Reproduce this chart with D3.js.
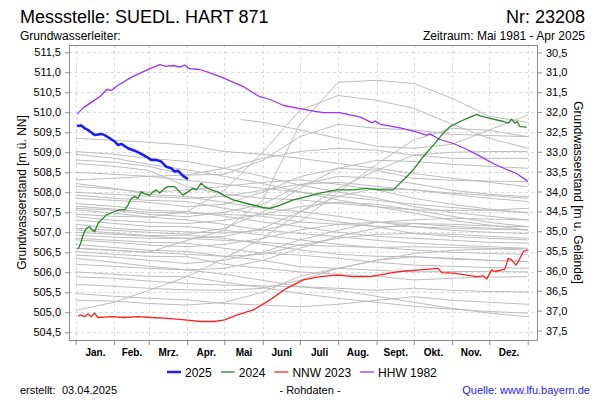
<!DOCTYPE html>
<html><head><meta charset="utf-8">
<script src="https://cdn.jsdelivr.net/npm/d3@7"></script>
<style>body{margin:0;background:#fff}svg{display:block;font-family:"Liberation Sans",Arial,sans-serif}</style>
</head><body><svg id="c" width="600" height="400"></svg>
<script>
// ---------- data ----------
const monthNames = ["Jan.","Feb.","Mrz.","Apr.","Mai","Juni","Juli","Aug.","Sept.","Okt.","Nov.","Dez."];
const monthStartDays = [0,31,59,90,120,151,181,212,243,273,304,334,365];
const levelTicks = [504.5,505.0,505.5,506.0,506.5,507.0,507.5,508.0,508.5,509.0,509.5,510.0,510.5,511.0,511.5];
const depthTicks = [30.5,31.0,31.5,32.0,32.5,33.0,33.5,34.0,34.5,35.0,35.5,36.0,36.5,37.0,37.5];

// historic years (grey), values at month starts (Jan 1 ... Dec 31)
const historicLevels = [
  [506.60,506.55,506.50,506.80,507.05,507.80,509.70,510.75,510.80,510.72,510.35,509.90,509.75],
  [507.45,507.40,507.38,507.52,508.05,509.00,510.05,510.42,510.30,510.10,509.70,509.35,509.10],
  [509.35,509.30,509.25,509.18,509.02,508.95,508.85,508.72,508.60,508.47,508.35,508.25,508.14],
  [509.02,508.95,508.85,508.77,508.60,508.40,508.18,508.01,507.85,507.64,507.50,507.40,507.31],
  [508.95,508.85,508.70,508.56,508.40,508.22,508.01,507.81,507.64,507.48,507.30,507.18,507.06],
  [508.81,508.75,508.65,508.43,508.45,508.80,509.39,509.70,509.60,509.56,509.45,509.42,509.39],
  [508.72,508.65,508.55,508.14,507.95,507.85,507.81,507.72,507.64,507.56,507.55,507.55,507.60],
  [508.50,508.45,508.40,508.30,508.20,508.10,508.00,507.90,507.80,507.70,507.62,507.55,507.50],
  [508.31,508.35,508.40,508.43,508.60,508.85,509.02,509.10,509.05,508.93,508.85,508.85,508.85],
  [508.22,508.10,507.95,507.89,507.75,507.60,507.52,507.40,507.26,507.14,507.05,507.00,506.97],
  [508.15,508.08,508.00,508.06,508.15,508.25,508.31,508.20,508.06,507.85,507.70,507.58,507.48],
  [508.00,507.95,507.90,507.85,507.90,508.05,508.20,508.25,508.15,508.06,507.98,507.92,507.85],
  [507.93,507.85,507.80,507.77,507.60,507.45,507.39,507.26,507.14,506.97,506.90,506.85,506.81],
  [507.85,507.80,507.75,507.64,507.70,508.00,508.39,508.60,508.55,508.35,508.30,508.28,508.27],
  [507.72,507.65,507.55,507.52,507.40,507.26,507.14,507.00,506.90,506.85,506.80,506.75,506.73],
  [507.65,507.58,507.50,507.48,507.45,507.40,507.26,507.20,507.15,507.14,507.10,507.08,507.06],
  [507.60,507.55,507.45,507.39,507.50,507.70,508.18,508.40,508.35,508.22,508.05,507.95,507.89],
  [507.56,507.48,507.38,507.31,507.20,507.06,506.97,506.89,506.80,506.73,506.68,506.64,506.60],
  [507.39,507.30,507.25,507.22,507.30,507.45,507.64,507.75,507.70,507.56,507.40,507.25,507.14],
  [507.31,507.22,507.15,507.14,507.05,506.93,506.81,506.70,506.62,506.56,506.50,506.47,506.45],
  [507.20,507.10,507.05,507.01,506.98,507.05,507.26,508.00,508.70,509.31,509.60,509.55,509.39],
  [507.10,507.05,507.00,506.95,507.10,507.50,508.10,508.60,508.80,508.77,508.70,508.65,508.60],
  [507.06,506.98,506.92,506.93,506.85,506.70,506.56,506.45,506.40,506.39,506.33,506.30,506.27],
  [507.00,506.95,506.90,506.85,506.80,506.75,506.68,506.65,506.62,506.64,506.62,506.60,506.55],
  [506.93,506.88,506.85,506.85,506.90,507.10,507.52,507.90,508.10,508.06,507.95,507.85,507.77],
  [506.85,506.80,506.75,506.73,506.60,506.48,506.43,506.35,506.25,506.18,506.15,506.12,506.10],
  [506.81,506.75,506.68,506.64,506.70,506.85,507.06,507.20,507.25,507.22,507.15,507.10,507.06],
  [506.70,506.62,506.55,506.52,506.40,506.30,506.14,506.10,506.05,506.01,506.02,506.02,506.01],
  [506.60,506.55,506.50,506.45,506.40,506.45,506.68,506.85,506.95,506.97,506.95,506.90,506.85],
  [506.52,506.45,506.40,506.39,506.20,506.10,506.01,505.95,505.90,505.81,505.85,505.88,505.89],
  [506.43,506.38,506.30,506.22,506.30,506.50,506.81,507.05,507.25,507.31,507.35,507.33,507.31],
  [506.35,506.25,506.15,506.06,505.95,505.80,505.64,505.60,505.55,505.60,505.55,505.52,505.51],
  [506.20,506.15,506.10,506.06,506.10,506.30,506.60,506.90,507.10,507.22,507.20,507.16,507.14],
  [506.01,505.95,505.90,505.89,505.75,505.62,505.47,505.35,505.25,505.15,505.08,505.02,504.98],
  [505.89,505.85,505.78,505.72,505.68,505.66,505.64,505.55,505.40,505.25,505.10,504.98,504.89],
  [505.70,505.65,505.60,505.56,505.55,505.60,505.80,506.10,506.30,506.39,506.35,506.30,506.27],
  [505.47,505.40,505.35,505.31,505.22,505.18,505.14,505.20,505.30,505.39,505.30,505.25,505.20],
  [505.30,505.28,505.22,505.18,505.25,505.50,505.90,506.10,506.30,506.47,506.55,506.58,506.60],
  [505.05,505.25,505.55,505.89,506.35,506.85,507.50,508.10,508.55,508.93,509.00,509.02,509.02]
];
// first year 1981 (starts in May)
const days1981 = [133,151,181,212,243,273,304,334,365];
const values1981 = [509.82,509.75,509.56,509.35,509.15,509.10,509.20,509.56,509.93];

// 2025 (blue)
const days2025 = [1,4.5,7.3,9.9,15.3,20.7,23.4,27.5,31.5,34.2,36.8,42.2,47.6,51.7,57,61,65,69,73,77.2,80,82.6,86.6,90.7];
const values2025 = [509.66,509.67,509.60,509.56,509.43,509.46,509.43,509.35,509.27,509.18,509.21,509.10,509.04,508.98,508.89,508.81,508.81,508.77,508.64,508.60,508.52,508.54,508.41,508.33];

// 2024 (green)
const days2024 = [1.9,4,5.9,8.6,11.3,13.2,15.3,18,20.7,24.7,27.5,31.5,35.5,39.6,42.2,44.9,47.6,50.3,53,55.7,59.8,62.4,65.1,67.8,71.9,74.5,79.9,82.6,86.6,90.7,94.7,97.4,101.4,104.2,109.5,114.9,120.3,127.3,138,151.5,157,165,175.7,186.5,197.3,210.8,224,235,245.7,256.5,261.9,267.3,272.6,280.7,288.8,296.8,302.2,310.3,318.4,323.8,326.5,334.6,345.3,349.3,352,354.7,356.6,358.8,364.2];
const values2024 = [506.58,506.72,506.93,507.10,507.14,507.06,507.02,507.22,507.31,507.43,507.47,507.52,507.56,507.56,507.68,507.85,507.89,507.85,508.01,507.96,507.93,508.01,508.06,507.98,508.10,508.14,508.14,508.06,507.93,508.01,508.10,508.06,508.23,508.14,508.06,508.01,507.91,507.81,507.72,507.62,507.60,507.68,507.81,507.89,507.98,508.06,508.06,508.10,508.06,508.06,508.23,508.39,508.56,508.89,509.18,509.48,509.64,509.77,509.88,509.95,509.91,509.85,509.77,509.73,509.83,509.73,509.77,509.64,509.63];

// NNW 2023 (red)
const daysNNW = [1.9,4.5,7.3,9.9,12.6,15.3,18,28.7,39.6,50.3,61,74.5,88,101.4,112.2,120.3,130,143.4,156.9,170.3,183.8,197.3,210.8,224.2,237.6,253.8,261.9,278,292.8,295.5,305,315.7,323.8,329.1,331.8,335.9,338.6,346.6,349.3,352,355.5,358.8,361.5,365];
const valuesNNW = [504.91,504.93,504.89,504.96,504.89,504.98,504.87,504.89,504.87,504.89,504.87,504.85,504.81,504.77,504.77,504.81,504.93,505.06,505.31,505.60,505.81,505.89,505.93,505.89,505.89,505.98,506.02,506.06,506.10,505.99,505.98,505.93,505.89,505.91,505.83,506.06,506.02,506.08,506.35,506.31,506.18,506.35,506.52,506.56];

// HHW 1982 (purple)
const daysHHW = [1.3,6,14,20,25,29,33,44,52,60,68,73,79,84,88,92,100,108,119,135,148,157,168,181,192,200,213,230,239,242,246,262,275,283,286,294,305,316,326,337,348,356,365];
const valuesHHW = [509.96,510.11,510.28,510.40,510.57,510.55,510.65,510.86,510.98,511.09,511.19,511.15,511.17,511.13,511.18,511.09,511.07,510.99,510.86,510.65,510.40,510.32,510.17,510.09,510.03,509.99,509.99,509.88,509.74,509.78,509.70,509.61,509.51,509.43,509.46,509.32,509.22,509.07,508.91,508.72,508.57,508.47,508.28];

const seriesNames = ["2025","2024","NNW 2023","HHW 1982"];
const seriesColors = ["#1a1aff","#218a21","#ff2020","#9b30ff"];

// ---------- layout ----------
const svg = d3.select("#c");
const frame = {left:69, right:537, top:45, bottom:340};
const x = d3.scaleLinear().domain([0,365]).range([75.7,527.7]);
const y = d3.scaleLinear().domain([504.5,511.5]).range([332.3,52.3]);
const yR = d3.scaleLinear().domain([30.5,37.5]).range([52.5,330.5]);
const fmt = d => d.toFixed(1).replace(".", ",");

// grid
const grid = svg.append("g").attr("stroke","#d9d9d9").attr("stroke-dasharray","3,3").attr("stroke-width",1);
grid.selectAll("line.h").data(levelTicks).join("line")
  .attr("x1",frame.left).attr("x2",frame.right)
  .attr("y1",d=>Math.round(y(d))+0.5).attr("y2",d=>Math.round(y(d))+0.5);
grid.selectAll("line.v").data(monthStartDays).join("line")
  .attr("y1",frame.top).attr("y2",frame.bottom)
  .attr("x1",d=>Math.round(x(d))+0.5).attr("x2",d=>Math.round(x(d))+0.5);

// lines
const line = d3.line().x(d=>x(d[0])).y(d=>y(d[1]));
const gGray = svg.append("g").attr("fill","none").attr("stroke","#bdbdbd").attr("stroke-width",1);
historicLevels.forEach(vals=>{
  gGray.append("path").attr("d", line(vals.map((v,i)=>[monthStartDays[i],v])));
});
gGray.append("path").attr("d", line(days1981.map((d,i)=>[d,values1981[i]])));

function drawSeries(days, vals, color, w){
  svg.append("path").attr("fill","none").attr("stroke",color).attr("stroke-width",w)
    .attr("stroke-linejoin","round")
    .attr("d", line(days.map((d,i)=>[d,vals[i]])));
}
drawSeries(daysHHW, valuesHHW, seriesColors[3], 1.3);
drawSeries(daysNNW, valuesNNW, seriesColors[2], 1.3);
drawSeries(days2024, values2024, seriesColors[1], 1.3);
drawSeries(days2025, values2025, seriesColors[0], 2.5);

// frame
svg.append("rect").attr("x",frame.left+0.5).attr("y",frame.top+0.5)
  .attr("width",frame.right-frame.left).attr("height",frame.bottom-frame.top)
  .attr("fill","none").attr("stroke","#8c8c8c");

// axes
const axL = svg.append("g").attr("transform",`translate(${frame.left},0)`)
  .call(d3.axisLeft(y).tickValues(levelTicks).tickSize(4).tickPadding(4).tickFormat(fmt));
const axR = svg.append("g").attr("transform",`translate(${frame.right+1},0)`)
  .call(d3.axisRight(yR).tickValues(depthTicks).tickSize(4).tickPadding(4).tickFormat(fmt));
const axB = svg.append("g").attr("transform",`translate(0,${frame.bottom+1})`)
  .call(d3.axisBottom(x).tickValues(monthStartDays).tickSize(4).tickFormat(""));
const midDays = monthStartDays.slice(0,12).map((d,i)=>(d+monthStartDays[i+1])/2);
const axBL = svg.append("g").attr("transform",`translate(0,${frame.bottom+1})`)
  .call(d3.axisBottom(x).tickValues(midDays).tickSize(0).tickPadding(8).tickFormat((d,i)=>monthNames[i]));
[axL,axR,axB,axBL].forEach(a=>{
  a.select(".domain").remove();
  a.selectAll(".tick line").attr("stroke","#8c8c8c");
  a.selectAll("text").attr("font-family","Liberation Sans, Arial, sans-serif").attr("fill","#000");
});
axL.selectAll("text").attr("font-size",11);
axR.selectAll("text").attr("font-size",11);
axBL.selectAll("text").attr("font-size",10).attr("font-weight","bold");

// axis titles
svg.append("text").attr("transform",`translate(26,${(frame.top+frame.bottom)/2}) rotate(-90)`)
  .attr("text-anchor","middle").attr("font-size",12).text("Grundwasserstand [m ü. NN]");
svg.append("text").attr("transform",`translate(574,${(frame.top+frame.bottom)/2}) rotate(90)`)
  .attr("text-anchor","middle").attr("font-size",12).text("Grundwasserstand [m u. Gelände]");

// titles
svg.append("text").attr("x",20).attr("y",23).attr("font-size",18).text("Messstelle: SUEDL. HART 871");
svg.append("text").attr("x",585).attr("y",23).attr("font-size",18).attr("text-anchor","end").text("Nr: 23208");
svg.append("text").attr("x",20).attr("y",40).attr("font-size",12).text("Grundwasserleiter:");
svg.append("text").attr("x",585).attr("y",40).attr("font-size",12).attr("text-anchor","end").text("Zeitraum: Mai 1981 - Apr 2025");

// legend
const legend = svg.append("g").attr("transform","translate(0,372)");
let lx = 167;
seriesNames.forEach((n,i)=>{
  legend.append("line").attr("x1",lx).attr("x2",lx+14).attr("y1",0).attr("y2",0)
    .attr("stroke",seriesColors[i]).attr("stroke-width",i===0?2.5:1.3);
  const t = legend.append("text").attr("x",lx+18).attr("y",4.5).attr("font-size",12).text(n);
  lx += 18 + t.node().getComputedTextLength() + 9;
});

// footer
svg.append("text").attr("x",20).attr("y",394).attr("font-size",11).text("erstellt:");
svg.append("text").attr("x",62).attr("y",394).attr("font-size",11).text("03.04.2025");
svg.append("text").attr("x",310).attr("y",394).attr("font-size",11).attr("text-anchor","middle").text("- Rohdaten -");
svg.append("text").attr("x",590).attr("y",394).attr("font-size",11).attr("text-anchor","end").attr("fill","#1a1aff").text("Quelle: www.lfu.bayern.de");
</script></body></html>
